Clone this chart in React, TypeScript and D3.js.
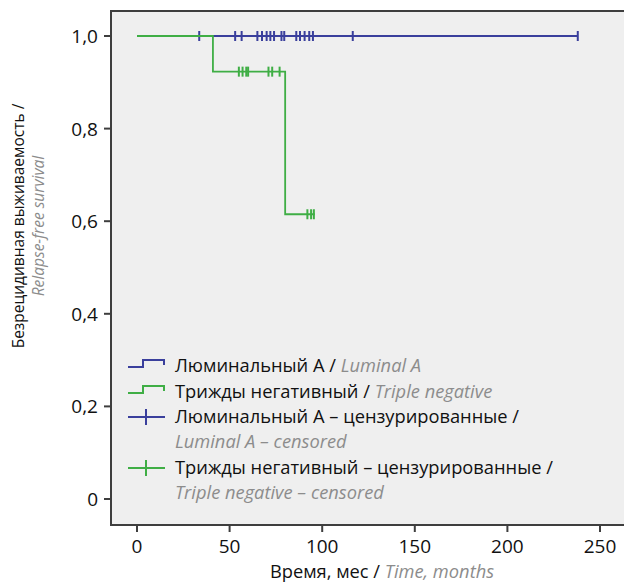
import React from "react";
import * as d3 from "d3";

const xTicks = [0, 50, 100, 150, 200, 250];
const yTicks = [0, 0.2, 0.4, 0.6, 0.8, 1.0];
const yTickLabels = ["0", "0,2", "0,4", "0,6", "0,8", "1,0"];

// Luminal A: no events, flat at 1.0
const lumEnd = 238;
const lumCensored = [33.6, 53, 56.5, 65, 67.5, 70, 72, 74, 78, 79.5, 86, 88, 90.5, 93, 95, 116.5, 238];

// Triple negative: event times and survival after each
const tnEventTimes = [41, 80];
const tnSurvival = [0.923, 0.615];
const tnEnd = 96;
const tnCensored = [55, 57, 59, 60, 71, 73, 77, 92, 94, 95.5];

const BLUE = "#3a3f9c";
const GREEN = "#3fae45";
const GRAY = "#8c8c8c";
const FONT = "'Open Sans', 'Noto Sans', sans-serif";

function survAt(t: number, times: number[], surv: number[]) {
  let s = 1;
  for (let i = 0; i < times.length; i++) if (t >= times[i]) s = surv[i];
  return s;
}

export default function App() {
  const W = 624, H = 583;
  const x = d3.scaleLinear().domain([0, 250]).range([137, 600]);
  const y = d3.scaleLinear().domain([0, 1]).range([499, 36]);
  const frame = { left: 111, top: 11, right: 640, bottom: 525 };

  const stepLine = d3.line<[number, number]>()
    .x((d) => x(d[0]))
    .y((d) => y(d[1]))
    .curve(d3.curveStepAfter);

  const lumPts: [number, number][] = [[0, 1], [lumEnd, 1]];
  const tnPts: [number, number][] = [[0, 1]];
  tnEventTimes.forEach((t, i) => tnPts.push([t, tnSurvival[i]]));
  tnPts.push([tnEnd, tnSurvival[tnSurvival.length - 1]]);

  const tickH = 5;
  const tickFs = 19;
  const legFs = 18.3;

  return (
    <svg width={W} height={H} style={{ position: "absolute", left: 0, top: 0, background: "#fff" }}>
      <rect x={frame.left} y={frame.top} width={frame.right - frame.left} height={frame.bottom - frame.top}
        fill="#efefef" stroke="#3e3e3e" strokeWidth={2} />
      {/* curves */}
      <path d={stepLine(lumPts) || ""} fill="none" stroke={BLUE} strokeWidth={1.8} />
      {lumCensored.map((t, i) => (
        <line key={"lc" + i} x1={x(t)} x2={x(t)} y1={y(1) - tickH} y2={y(1) + tickH} stroke={BLUE} strokeWidth={2} />
      ))}
      <path d={stepLine(tnPts) || ""} fill="none" stroke={GREEN} strokeWidth={1.8} />
      {tnCensored.map((t, i) => {
        const s = survAt(t, tnEventTimes, tnSurvival);
        return <line key={"tc" + i} x1={x(t)} x2={x(t)} y1={y(s) - tickH} y2={y(s) + tickH} stroke={GREEN} strokeWidth={2} />;
      })}
      {/* y axis */}
      {yTicks.map((v, i) => (
        <g key={"yt" + i}>
          <line x1={frame.left - 7} x2={frame.left} y1={y(v)} y2={y(v)} stroke="#3e3e3e" strokeWidth={2} />
          <text x={frame.left - 13} y={y(v) + 7} textAnchor="end" fontFamily={FONT} fontSize={tickFs} fill="#111">{yTickLabels[i]}</text>
        </g>
      ))}
      {/* x axis */}
      {xTicks.map((v, i) => (
        <g key={"xt" + i}>
          <line x1={x(v)} x2={x(v)} y1={frame.bottom} y2={frame.bottom + 7} stroke="#3e3e3e" strokeWidth={2} />
          <text x={x(v)} y={553} textAnchor="middle" fontFamily={FONT} fontSize={tickFs} fill="#111">{v}</text>
        </g>
      ))}
      <text x={382} y={578} textAnchor="middle" fontFamily={FONT} fontSize={18.3} fill="#111">
        Время, мес / <tspan fill={GRAY} fontStyle="italic">Time, months</tspan>
      </text>
      <g transform="translate(24,226) rotate(-90)">
        <text x={0} y={0} textAnchor="middle" fontFamily={FONT} fontSize={15.5} fill="#111">Безрецидивная выживаемость /</text>
        <text x={0} y={20} textAnchor="middle" fontFamily={FONT} fontSize={15.5} fill={GRAY} fontStyle="italic">Relapse-free survival</text>
      </g>
      {/* legend */}
      <g fontFamily={FONT} fontSize={legFs}>
        {[
          { c: BLUE, kind: "step", ru: "Люминальный А / ", en: "Luminal A", y: 372 },
          { c: GREEN, kind: "step", ru: "Трижды негативный / ", en: "Triple negative", y: 398 },
          { c: BLUE, kind: "plus", ru: "Люминальный А – цензурированные /", en2: "Luminal A – censored", y: 423 },
          { c: GREEN, kind: "plus", ru: "Трижды негативный – цензурированные /", en2: "Triple negative – censored", y: 474 },
        ].map((e, i) => (
          <g key={"lg" + i}>
            {e.kind === "step" ? (
              <path d={`M128,${e.y - 5} H143 V${e.y - 12} H164 V${e.y - 7}`} fill="none" stroke={e.c} strokeWidth={2} />
            ) : (
              <g>
                <line x1={128} x2={165} y1={e.y - 6} y2={e.y - 6} stroke={e.c} strokeWidth={2} />
                <line x1={146} x2={146} y1={e.y - 14} y2={e.y + 2} stroke={e.c} strokeWidth={2} />
              </g>
            )}
            <text x={175} y={e.y} fill="#111">
              {e.ru}
              {e.en ? <tspan fill={GRAY} fontStyle="italic">{e.en}</tspan> : null}
            </text>
            {e.en2 ? <text x={175} y={e.y + 25} fill={GRAY} fontStyle="italic">{e.en2}</text> : null}
          </g>
        ))}
      </g>
    </svg>
  );
}
